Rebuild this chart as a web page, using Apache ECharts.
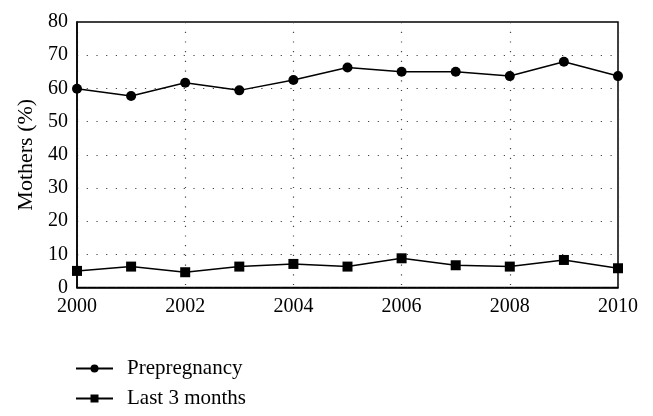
<!DOCTYPE html>
<html><head><meta charset="utf-8">
<script src="https://cdn.jsdelivr.net/npm/echarts@6/dist/echarts.min.js"></script>
<style>html,body{margin:0;padding:0;background:#fff}#c{width:653px;height:416px}</style>
</head><body><div id="c"></div>
<script>
const years = [2000, 2001, 2002, 2003, 2004, 2005, 2006, 2007, 2008, 2009, 2010];
const prepregnancy = [59.9, 57.7, 61.7, 59.4, 62.5, 66.3, 65.0, 65.0, 63.7, 68.0, 63.7];
const last3Months = [5.0, 6.3, 4.6, 6.3, 7.1, 6.3, 8.8, 6.7, 6.3, 8.3, 5.8];
const seriesNames = ['Prepregnancy', 'Last 3 months'];
const yAxisTitle = 'Mothers (%)';

const font = 'Liberation Serif';
const chart = echarts.init(document.getElementById('c'), null, {renderer: 'canvas'});
const dotted = {color: '#444', width: 1.2, type: [1.2, 8.5]};
chart.setOption({
  animation: false,
  backgroundColor: '#fff',
  grid: {left: 77, right: 35, top: 22, bottom: 128.5, show: true, borderColor: '#000', borderWidth: 1.5, backgroundColor: 'transparent'},
  legend: {
    orient: 'vertical', left: 70, top: 353, itemWidth: 37, itemHeight: 10, itemGap: 9,
    textStyle: {fontFamily: font, fontSize: 21, lineHeight: 20, color: '#000', padding: [0, 0, 0, 9]},
    data: seriesNames
  },
  xAxis: {
    type: 'value', min: 2000, max: 2010, interval: 2,
    axisLine: {show: true, lineStyle: {color: '#000', width: 1.5}},
    axisTick: {show: false},
    axisLabel: {fontFamily: font, fontSize: 20, color: '#000', margin: 9, formatter: v => String(v)},
    splitLine: {show: true, lineStyle: dotted}
  },
  yAxis: {
    type: 'value', min: 0, max: 80, interval: 10,
    name: yAxisTitle, nameLocation: 'middle', nameGap: 40,
    nameTextStyle: {fontFamily: font, fontSize: 22, color: '#000'},
    axisLine: {show: true, lineStyle: {color: '#000', width: 1.5}},
    axisTick: {show: false},
    axisLabel: {fontFamily: font, fontSize: 20, color: '#000', margin: 9},
    splitLine: {show: true, lineStyle: dotted}
  },
  series: [
    {name: seriesNames[0], type: 'line', data: years.map((y, i) => [y, prepregnancy[i]]),
     symbol: 'circle', symbolSize: 10, itemStyle: {color: '#000'}, lineStyle: {color: '#000', width: 1.5}},
    {name: seriesNames[1], type: 'line', data: years.map((y, i) => [y, last3Months[i]]),
     symbol: 'rect', symbolSize: 10, itemStyle: {color: '#000'}, lineStyle: {color: '#000', width: 1.5}}
  ]
});
</script></body></html>
